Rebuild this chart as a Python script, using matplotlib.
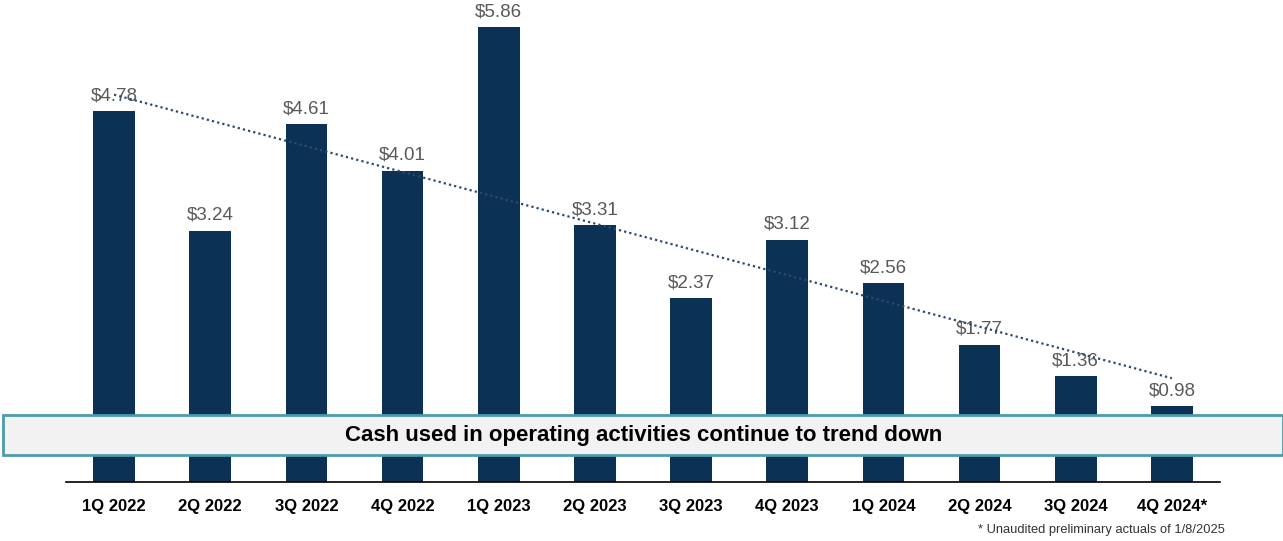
import matplotlib
matplotlib.use("Agg")
import matplotlib.pyplot as plt
import numpy as np
from matplotlib.patches import Rectangle

plt.rcParams['font.family'] = ['Liberation Sans', 'DejaVu Sans']

categories = ["1Q 2022", "2Q 2022", "3Q 2022", "4Q 2022", "1Q 2023", "2Q 2023",
              "3Q 2023", "4Q 2023", "1Q 2024", "2Q 2024", "3Q 2024", "4Q 2024*"]
values = [4.78, 3.24, 4.61, 4.01, 5.86, 3.31, 2.37, 3.12, 2.56, 1.77, 1.36, 0.98]
labels = ["$" + f"{v:.2f}" for v in values]
banner_text = "Cash used in operating activities continue to trend down"
footnote = "* Unaudited preliminary actuals of 1/8/2025"

W, H = 1283, 541
fig = plt.figure(figsize=(W / 100, H / 100), dpi=100)
ax = fig.add_axes([66 / W, 1 - 482 / H, (1220 - 66) / W, 482 / H])

x = np.arange(len(categories))
ax.bar(x, values, width=0.435, color='#0b3154', zorder=2)
ax.set_xlim(-0.5, 11.5)
ax.set_ylim(0, 482 / 77.6)

for xi, v, lab in zip(x, values, labels):
    ax.annotate(lab, (xi, v), xytext=(0, 5), textcoords='offset points',
                ha='center', va='bottom', fontsize=13.5, color='#595959', zorder=3,
                annotation_clip=False)

# linear trend line
coef = np.polyfit(x, values, 1)
ax.plot(x, np.polyval(coef, x), linestyle=(0, (1, 1.4)), color='#2b4a6e', lw=1.6, zorder=4)

for s in ['top', 'right', 'left']:
    ax.spines[s].set_visible(False)
ax.spines['bottom'].set_color('#000000')
ax.spines['bottom'].set_linewidth(1.2)
ax.set_yticks([])
ax.set_xticks(x)
ax.set_xticklabels(categories, fontsize=12, fontweight='bold', color='#000000')
ax.tick_params(axis='x', length=0, pad=12)

# banner
fig.patches.append(Rectangle((3 / W, 1 - 455 / H), (W - 3) / W, 40 / H,
                             transform=fig.transFigure, facecolor='#f2f2f2',
                             edgecolor='#4b9cab', lw=2, zorder=10))
fig.text(644 / W, 1 - 436 / H, banner_text, ha='center', va='center',
         fontsize=16, fontweight='bold', color='#000000', zorder=11)

fig.text(1225 / W, 1 - 530 / H, footnote, ha='right', va='center',
         fontsize=9.3, color='#333333')

fig.savefig("out.png", dpi=100)
